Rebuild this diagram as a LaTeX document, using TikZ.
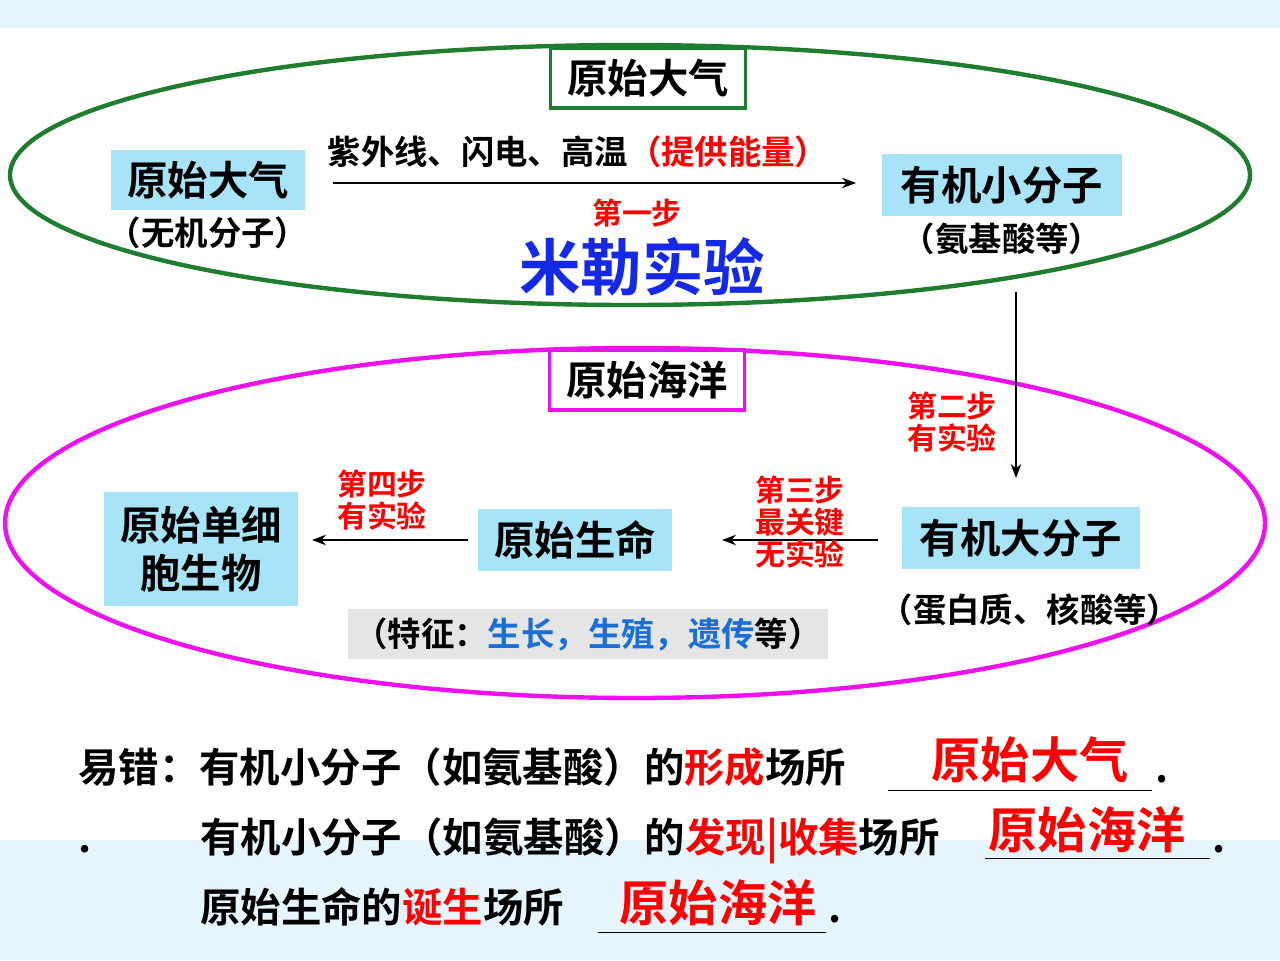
\documentclass[tikz,border=0pt]{standalone}
\usepackage{fontspec}
\setmainfont{Noto Sans CJK SC}[BoldFont={* Bold}]
\usetikzlibrary{shapes.geometric,arrows.meta,positioning}
\definecolor{boxblue}{HTML}{A8E4F8}
\definecolor{textblue}{HTML}{1A6FD6}
\definecolor{millerblue}{HTML}{1428E6}
\definecolor{bgband}{HTML}{E6F4FC}
\definecolor{ovgreen}{HTML}{1E7D2E}
\definecolor{ovpink}{HTML}{EE10EE}
\begin{document}
\begin{tikzpicture}[x=0.02cm,y=-0.02cm,
    lbl/.style={font=\bfseries\fontsize{23}{27}\selectfont, align=center},
    box/.style={lbl, fill=boxblue, inner sep=4pt},
    frame/.style={lbl, fill=white, line width=2pt, minimum width=3.9cm, minimum height=1.2cm},
    note/.style={font=\bfseries\fontsize{19}{21}\selectfont, align=center},
    steplbl/.style={font=\bfseries\fontsize{17}{18}\selectfont, text=red, align=center},
    line/.style={font=\bfseries\fontsize{23}{27}\selectfont, anchor=base west, inner sep=0pt},
    ans/.style={font=\bfseries\fontsize{28}{30}\selectfont, text=red, inner sep=0pt},
    arrow/.style={-{Stealth[length=8pt]}, thick}
]
\useasboundingbox (0,0) rectangle (1280,960);
% background bands
\fill[bgband] (0,0) rectangle (1280,28);
\fill[bgband] (0,840) rectangle (1280,960);

% atmosphere
\draw[ovgreen, line width=2.5pt] (630,175) ellipse [x radius=620, y radius=130];
\node[frame, draw=ovgreen] (atmo) at (648,78) {原始大气};
\node[box, minimum width=3.9cm, minimum height=1.2cm] (gas) at (208,180) {原始大气};
\node[note, below=0pt of gas] (gasn) {（无机分子）};
\node[box, minimum width=4.8cm, minimum height=1.25cm] (small) at (1002,185) {有机小分子};
\node[note, below=0pt of small] (smalln) {（氨基酸等）};
\coordinate (a1) at (333,183);
\coordinate (a2) at (856,183);
\draw[arrow] (a1) -- (a2);
\node[note] (energy) at (578,152) {紫外线、闪电、高温\textcolor{red}{（提供能量）}};
\node[steplbl] (s1) at (637,213) {第一步};
\node[font=\bfseries\fontsize{35}{37}\selectfont, text=millerblue] (miller) at (642,267) {米勒实验};

% ocean
\draw[ovpink, line width=2.5pt] (635,523) ellipse [x radius=630, y radius=175];
\node[frame, draw=ovpink] (ocean) at (647,380) {原始海洋};
\node[box, minimum width=4.75cm, minimum height=1.25cm] (big) at (1021,538) {有机大分子};
\node[note] (bign) at (1030,610) {（蛋白质、核酸等）};
\node[box, minimum width=3.9cm, minimum height=1.25cm] (life) at (575,540) {原始生命};
\node[box, minimum width=3.9cm, minimum height=2.3cm] (cell) at (201,549) {原始单细\\胞生物};
\node[note, fill=gray!20, minimum width=9.45cm, minimum height=1cm] (feat) at (588,634)
  {（特征：\textcolor{textblue}{生长，生殖，遗传}等）};
\coordinate (b1) at (1016,292);
\coordinate (b2) at (1016,478);
\draw[arrow] (b1) -- (b2);
\node[steplbl] (s2) at (952,422) {第二步\\有实验};
\coordinate (c1) at (878,540);
\coordinate (c2) at (722,540);
\draw[arrow] (c1) -- (c2);
\node[steplbl] (s3) at (800,522) {第三步\\最关键\\无实验};
\coordinate (d1) at (468,540);
\coordinate (d2) at (312,540);
\draw[arrow] (d1) -- (d2);
\node[steplbl] (s4) at (382,500) {第四步\\有实验};

% bottom text
\node[line] (t1) at (78,782) {易错：有机小分子（如氨基酸）的\textcolor{red}{形成}场所};
\draw (888,790) -- (1152,790);
\node[ans] (r1) at (1030,760) {原始大气};
\node[line] (p1) at (1155,782) {.};
\node[line] (p2) at (78,852) {.};
\node[line] (t2) at (200,852) {有机小分子（如氨基酸）的\textcolor{red}{发现|收集}场所};
\draw (985,858) -- (1210,858);
\node[ans] (r2) at (1087,830) {原始海洋};
\node[line] (p3) at (1212,852) {.};
\node[line] (t3) at (200,922) {原始生命的\textcolor{red}{诞生}场所};
\draw (598,932) -- (826,932);
\node[ans] (r3) at (718,903) {原始海洋};
\node[line] (p4) at (828,922) {.};
\end{tikzpicture}
\end{document}
